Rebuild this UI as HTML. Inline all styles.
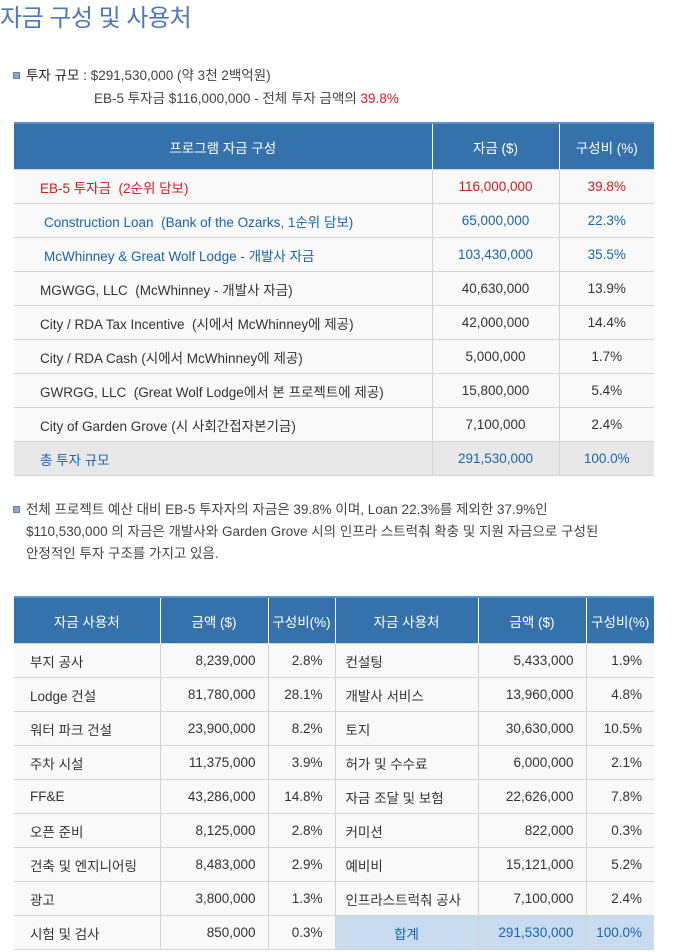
<!DOCTYPE html>
<html><head><meta charset="utf-8">
<style>
body{margin:0;width:683px;height:952px;background:#fff;font-family:"Liberation Sans","Noto Sans CJK KR",sans-serif;color:#333;position:relative;overflow:hidden}
.t{position:absolute;left:0;top:-2px;font-size:24px;color:#4d7ab5;letter-spacing:-0.5px}
.b{position:absolute;font-size:13.5px;color:#444;line-height:22px}
.sq{position:absolute;width:5px;height:5px;background:#8aa8cc;border:1px solid #5f86b8}
table{position:absolute;left:14px;border-collapse:collapse;font-size:13.5px;table-layout:fixed}
th{background:#3572ab;color:#fff;font-weight:normal;height:43px;border-left:1px solid #fff;border-top:2px solid #5a93c7}
th:first-child{border-left:none}
td{height:33px;border:1px solid #d4d4d4;background:#f9f9f9;padding:0}
tr td:first-child{border-left:none}tr td:last-child{border-right:none}
.r{color:#e0151b}.bl{color:#1a64ad}
.c{text-align:center}.rt{text-align:right;padding-right:12px}
</style></head><body>
<div class="t">자금 구성 및 사용처</div>
<div class="sq" style="left:13px;top:72px"></div>
<div class="b" style="left:26px;top:65px"><b style="color:#222;font-weight:normal">투자 규모 :</b> $291,530,000 (약 3천 2백억원)</div>
<div class="b" style="left:94px;top:88px">EB-5 투자금 $116,000,000 - 전체 투자 금액의 <span class="r">39.8%</span></div>
<table style="top:122px;width:640px">
<colgroup><col style="width:418px"><col style="width:127px"><col style="width:95px"></colgroup>
<tr><th>프로그램 자금 구성</th><th>자금 ($)</th><th>구성비 (%)</th></tr>
<tr class="r"><td style="padding-left:26px">EB-5 투자금 &nbsp;(2순위 담보)</td><td class="c">116,000,000</td><td class="c">39.8%</td></tr>
<tr class="bl"><td style="padding-left:30px">Construction Loan &nbsp;(Bank of the Ozarks, 1순위 담보)</td><td class="c">65,000,000</td><td class="c">22.3%</td></tr>
<tr class="bl"><td style="padding-left:30px">McWhinney &amp; Great Wolf Lodge - 개발사 자금</td><td class="c">103,430,000</td><td class="c">35.5%</td></tr>
<tr><td style="padding-left:26px">MGWGG, LLC &nbsp;(McWhinney - 개발사 자금)</td><td class="c">40,630,000</td><td class="c">13.9%</td></tr>
<tr><td style="padding-left:26px">City / RDA Tax Incentive &nbsp;(시에서 McWhinney에 제공)</td><td class="c">42,000,000</td><td class="c">14.4%</td></tr>
<tr><td style="padding-left:26px">City / RDA Cash (시에서 McWhinney에 제공)</td><td class="c">5,000,000</td><td class="c">1.7%</td></tr>
<tr><td style="padding-left:26px">GWRGG, LLC &nbsp;(Great Wolf Lodge에서 본 프로젝트에 제공)</td><td class="c">15,800,000</td><td class="c">5.4%</td></tr>
<tr><td style="padding-left:26px">City of Garden Grove (시 사회간접자본기금)</td><td class="c">7,100,000</td><td class="c">2.4%</td></tr>
<tr class="bl"><td style="padding-left:26px;background:#e8e8e8">총 투자 규모</td><td class="c" style="background:#e8e8e8">291,530,000</td><td class="c" style="background:#e8e8e8">100.0%</td></tr>
</table>
<div class="sq" style="left:13px;top:506px"></div>
<div class="b" style="left:26px;top:499px;width:640px">전체 프로젝트 예산 대비 EB-5 투자자의 자금은 39.8% 이며, Loan 22.3%를 제외한 37.9%인<br>$110,530,000 의 자금은 개발사와 Garden Grove 시의 인프라 스트럭춰 확충 및 지원 자금으로 구성된<br>안정적인 투자 구조를 가지고 있음.</div>
<table style="top:596px;width:640px">
<colgroup><col style="width:146px"><col style="width:108px"><col style="width:67px"><col style="width:143px"><col style="width:108px"><col style="width:68px"></colgroup>
<tr><th>자금 사용처</th><th>금액 ($)</th><th>구성비(%)</th><th>자금 사용처</th><th>금액 ($)</th><th>구성비(%)</th></tr>
<tr><td style="padding-left:16px">부지 공사</td><td class="rt">8,239,000</td><td class="rt">2.8%</td><td style="padding-left:10px">컨설팅</td><td class="rt">5,433,000</td><td class="rt">1.9%</td></tr>
<tr><td style="padding-left:16px">Lodge 건설</td><td class="rt">81,780,000</td><td class="rt">28.1%</td><td style="padding-left:10px">개발사 서비스</td><td class="rt">13,960,000</td><td class="rt">4.8%</td></tr>
<tr><td style="padding-left:16px">워터 파크 건설</td><td class="rt">23,900,000</td><td class="rt">8.2%</td><td style="padding-left:10px">토지</td><td class="rt">30,630,000</td><td class="rt">10.5%</td></tr>
<tr><td style="padding-left:16px">주차 시설</td><td class="rt">11,375,000</td><td class="rt">3.9%</td><td style="padding-left:10px">허가 및 수수료</td><td class="rt">6,000,000</td><td class="rt">2.1%</td></tr>
<tr><td style="padding-left:16px">FF&amp;E</td><td class="rt">43,286,000</td><td class="rt">14.8%</td><td style="padding-left:10px">자금 조달 및 보험</td><td class="rt">22,626,000</td><td class="rt">7.8%</td></tr>
<tr><td style="padding-left:16px">오픈 준비</td><td class="rt">8,125,000</td><td class="rt">2.8%</td><td style="padding-left:10px">커미션</td><td class="rt">822,000</td><td class="rt">0.3%</td></tr>
<tr><td style="padding-left:16px">건축 및 엔지니어링</td><td class="rt">8,483,000</td><td class="rt">2.9%</td><td style="padding-left:10px">예비비</td><td class="rt">15,121,000</td><td class="rt">5.2%</td></tr>
<tr><td style="padding-left:16px">광고</td><td class="rt">3,800,000</td><td class="rt">1.3%</td><td style="padding-left:10px">인프라스트럭춰 공사</td><td class="rt">7,100,000</td><td class="rt">2.4%</td></tr>
<tr><td style="padding-left:16px">시험 및 검사</td><td class="rt">850,000</td><td class="rt">0.3%</td><td class="c bl" style="background:#c9dcef">합계</td><td class="rt bl" style="background:#c9dcef">291,530,000</td><td class="rt bl" style="background:#c9dcef">100.0%</td></tr>
</table>
</body></html>
